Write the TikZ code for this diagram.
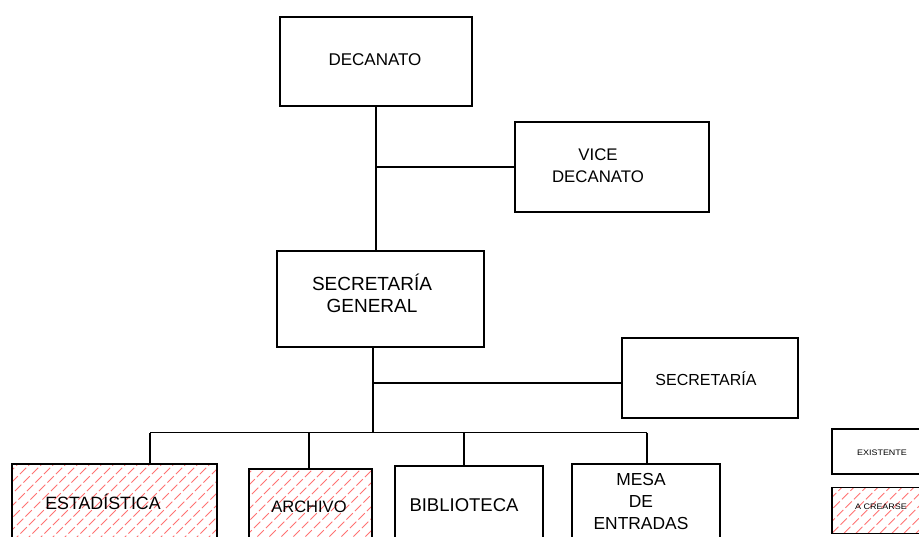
\documentclass[tikz,border=0pt]{standalone}
\usepackage{fontspec}
\setmainfont{Liberation Sans}
\usetikzlibrary{positioning}

\newcommand{\tam}[1]{\fontsize{#1}{22}\selectfont}

\tikzset{
  unidad/.style={draw, inner sep=0pt, fill=white},
  nueva/.style={path picture={%
    \foreach \k in {0,...,34}
      \draw[red!55, line width=1pt, dash pattern=on 9pt off 3pt]
        ([xshift=\k*12pt-168pt]path picture bounding box.south west) -- ++(175pt,175pt);}},
  rotulo/.style={align=center, inner sep=0pt, font=\tam{17}},
  leyenda/.style={inner sep=0pt, font=\fontsize{8}{9}\selectfont, xscale=1.12},
}

\begin{document}
\begin{tikzpicture}[x=1pt, y=-1pt, line width=1.2pt]
    \useasboundingbox (0,0) rectangle (919,536);
    \clip (0,0) rectangle (919,536);

    \node[unidad, minimum width=192pt, minimum height=89pt] (1) at (376,61.5) {};
    \node[unidad, minimum width=194pt, minimum height=90pt] (2) at (612,167) {};
    \node[unidad, minimum width=207pt, minimum height=96pt] (3) at (380.5,299) {};
    \node[unidad, minimum width=176pt, minimum height=80pt] (4) at (710,378) {};
    \node[unidad, nueva, minimum width=205pt, minimum height=78pt] (51) at (114.5,503) {};
    \node[unidad, nueva, minimum width=123pt, minimum height=76pt] (52) at (310.5,507) {};
    \node[unidad, minimum width=148pt, minimum height=78pt] (53) at (469,505) {};
    \node[unidad, minimum width=148pt, minimum height=78pt] (54) at (646,503) {};

    % leyenda
    \node[unidad, minimum width=100pt, minimum height=45pt] (61) at (882,451.5) {};
    \node[unidad, nueva, minimum width=100pt, minimum height=46pt, below=12pt of 61] (62) {};

    \node[rotulo] (1t) at (375,60) {DECANATO};
    \node[rotulo, font=\tam{16.8}] (2t) at (598,166) {VICE\\DECANATO};
    \node[rotulo, font=\tam{19}] (3t) at (372,293) {SECRETARÍA\\GENERAL};
    \node[rotulo, font=\tam{16}] (4t) at (706,379) {SECRETARÍA};
    \node[rotulo, font=\tam{17.8}] (51t) at (103,502) {ESTADÍSTICA};
    \node[rotulo, font=\tam{16.5}] (52t) at (309,507) {ARCHIVO};
    \node[rotulo, font=\tam{18.5}] (53t) at (464,505) {BIBLIOTECA};
    \node[rotulo, font=\tam{17.4}] (54t) at (641,502) {MESA\\DE\\ENTRADAS};
    \node[leyenda] (61t) at (882,453) {EXISTENTE};
    \node[leyenda] (62t) at (881,507) {A CREARSE};

    \coordinate (j2) at (373,383);
    \coordinate (b) at (373,432.5);
    \coordinate (e1) at (150,432.5);
    \coordinate (e2) at (309,432.5);
    \coordinate (e3) at (464,432.5);
    \coordinate (e4) at (647,432.5);

    \draw (1.south) -- (1.south |- 3.north);
    \draw (1.south |- 2.west) -- (2.west);
    \draw (3.south -| b) -- (b);
    \draw (j2) -- (j2 -| 4.west);
    \draw (e1) -- (e4);
    \foreach \c/\n in {e1/51, e2/52, e3/53, e4/54}
        \draw (\c) -- (\c |- \n.north);

\end{tikzpicture}
\end{document}
